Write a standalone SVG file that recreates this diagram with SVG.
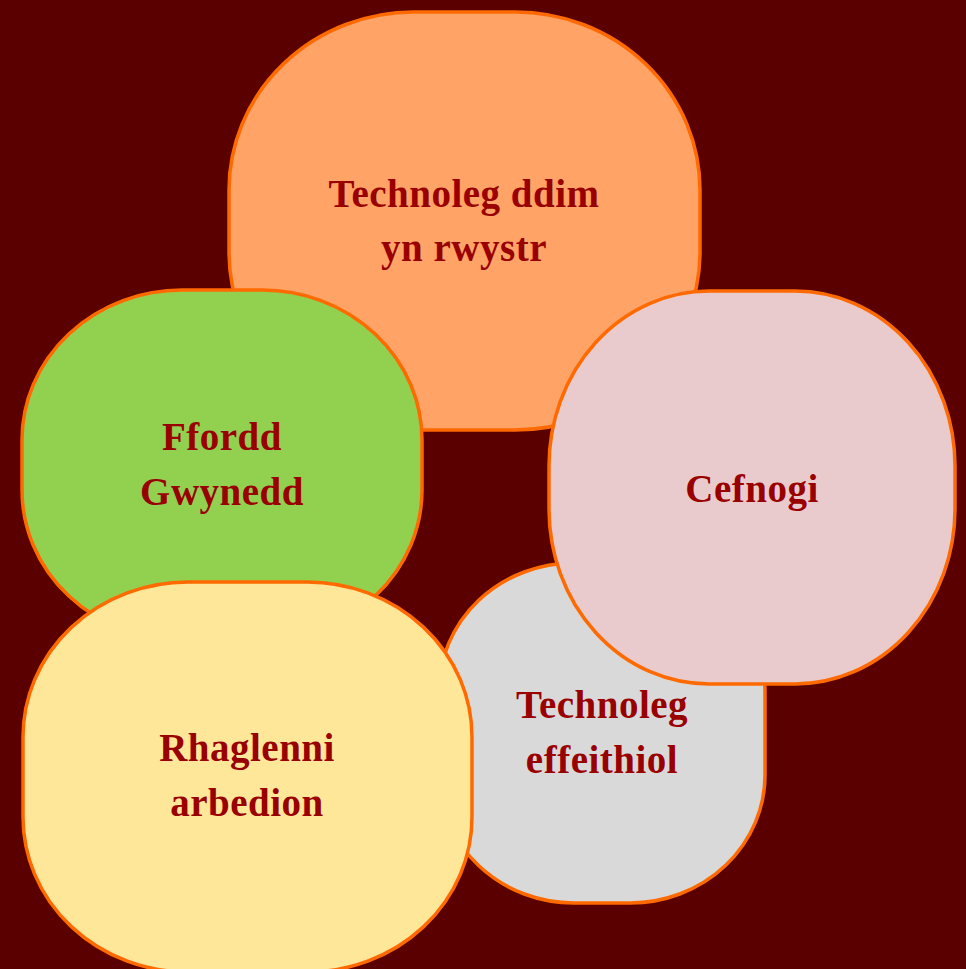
<svg xmlns="http://www.w3.org/2000/svg" width="966" height="969" viewBox="0 0 966 969">
<style>
.s{stroke:#FF6A00;stroke-width:3.5}
.t{font-family:"Liberation Serif","Times New Roman",serif;font-weight:bold;font-size:39px;fill:#990000;text-anchor:middle;letter-spacing:0.5px}
</style>
<rect width="966" height="969" fill="#5A0000"/>
<g id="node-technoleg-ddim">
<rect class="s" x="229" y="12" width="471" height="418" rx="185" ry="178" fill="#FFA366"/>
<text class="t" x="464" y="207">Technoleg ddim</text>
<text class="t" x="464" y="261">yn rwystr</text>
</g>
<g id="node-ffordd-gwynedd">
<rect class="s" x="22" y="290" width="400" height="350" rx="160" ry="150" fill="#92D050"/>
<text class="t" x="222" y="450">Ffordd</text>
<text class="t" x="222" y="505">Gwynedd</text>
</g>
<g id="node-technoleg-effeithiol">
<rect class="s" x="439" y="563" width="326" height="340" rx="135" ry="128" fill="#D9D9D9"/>
<text class="t" x="602" y="718">Technoleg</text>
<text class="t" x="602" y="773">effeithiol</text>
</g>
<g id="node-cefnogi">
<rect class="s" x="549" y="291" width="406" height="393" rx="160" ry="175" fill="#E9CBCD"/>
<text class="t" x="752" y="502">Cefnogi</text>
</g>
<g id="node-rhaglenni-arbedion">
<rect class="s" x="23" y="582" width="449" height="390" rx="165" ry="155" fill="#FFE799"/>
<text class="t" x="247" y="761">Rhaglenni</text>
<text class="t" x="247" y="816">arbedion</text>
</g>
<g id="connectors"></g>
</svg>
